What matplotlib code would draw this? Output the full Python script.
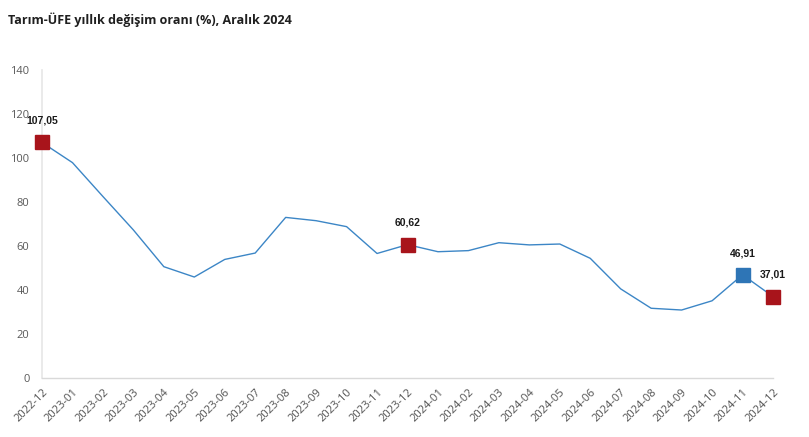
import matplotlib
matplotlib.use("Agg")
import matplotlib.pyplot as plt

months = ["2022-12", "2023-01", "2023-02", "2023-03", "2023-04", "2023-05", "2023-06",
          "2023-07", "2023-08", "2023-09", "2023-10", "2023-11", "2023-12",
          "2024-01", "2024-02", "2024-03", "2024-04", "2024-05", "2024-06",
          "2024-07", "2024-08", "2024-09", "2024-10", "2024-11", "2024-12"]
values = [107.05, 97.9, 82.5, 67.3, 50.6, 45.9, 53.9, 56.8, 73.0, 71.5, 68.8, 56.6, 60.62,
          57.4, 57.9, 61.5, 60.5, 60.9, 54.4, 40.5, 31.7, 30.9, 35.1, 46.91, 37.01]
highlight_idx = [0, 12, 23, 24]
highlight_colors = ["#A8141B", "#A8141B", "#2E75B6", "#A8141B"]
highlight_labels = ["107,05", "60,62", "46,91", "37,01"]
yticks = [0, 20, 40, 60, 80, 100, 120, 140]

fig = plt.figure(figsize=(8.09, 4.37), dpi=100)
ax = fig.add_axes([42/809, 1-378/437, (773-42)/809, (378-70)/437])

x = list(range(len(months)))
ax.plot(x, values, color="#3C86C6", linewidth=1.0, zorder=2)
for i, c, lab in zip(highlight_idx, highlight_colors, highlight_labels):
    ax.plot([x[i]], [values[i]], marker="s", markersize=10, color=c,
            markeredgecolor=c, zorder=3, clip_on=False)
    ax.annotate(lab, (x[i], values[i]), xytext=(0, 12), textcoords="offset points",
                ha="center", va="bottom", fontsize=7.5, fontweight="bold",
                family="Liberation Sans", color="#1a1a1a")

ax.set_xlim(0, 24)
ax.set_ylim(0, 140)
ax.set_yticks(yticks)
ax.set_yticklabels([str(t) for t in yticks], fontsize=8, color="#595959", family="Open Sans")
ax.set_xticks(x)
ax.set_xticklabels(months, rotation=45, ha="right", rotation_mode="anchor",
                   fontsize=8, color="#505050", family="Open Sans")
ax.tick_params(axis="both", length=0)
ax.tick_params(axis="y", pad=9)
ax.tick_params(axis="x", pad=6)
for s in ["top", "right"]:
    ax.spines[s].set_visible(False)
ax.spines["left"].set_color("#e6e6e6")
ax.spines["bottom"].set_color("#d9d9d9")
ax.spines["left"].set_linewidth(1.2)
ax.spines["bottom"].set_linewidth(1.0)

fig.text(8/809, 1-20/437, "Tarım-ÜFE yıllık değişim oranı (%), Aralık 2024",
         fontsize=9, fontweight="bold", family="Open Sans", color="#1f1f1f",
         ha="left", va="center")

fig.savefig("out.png", dpi=100)
